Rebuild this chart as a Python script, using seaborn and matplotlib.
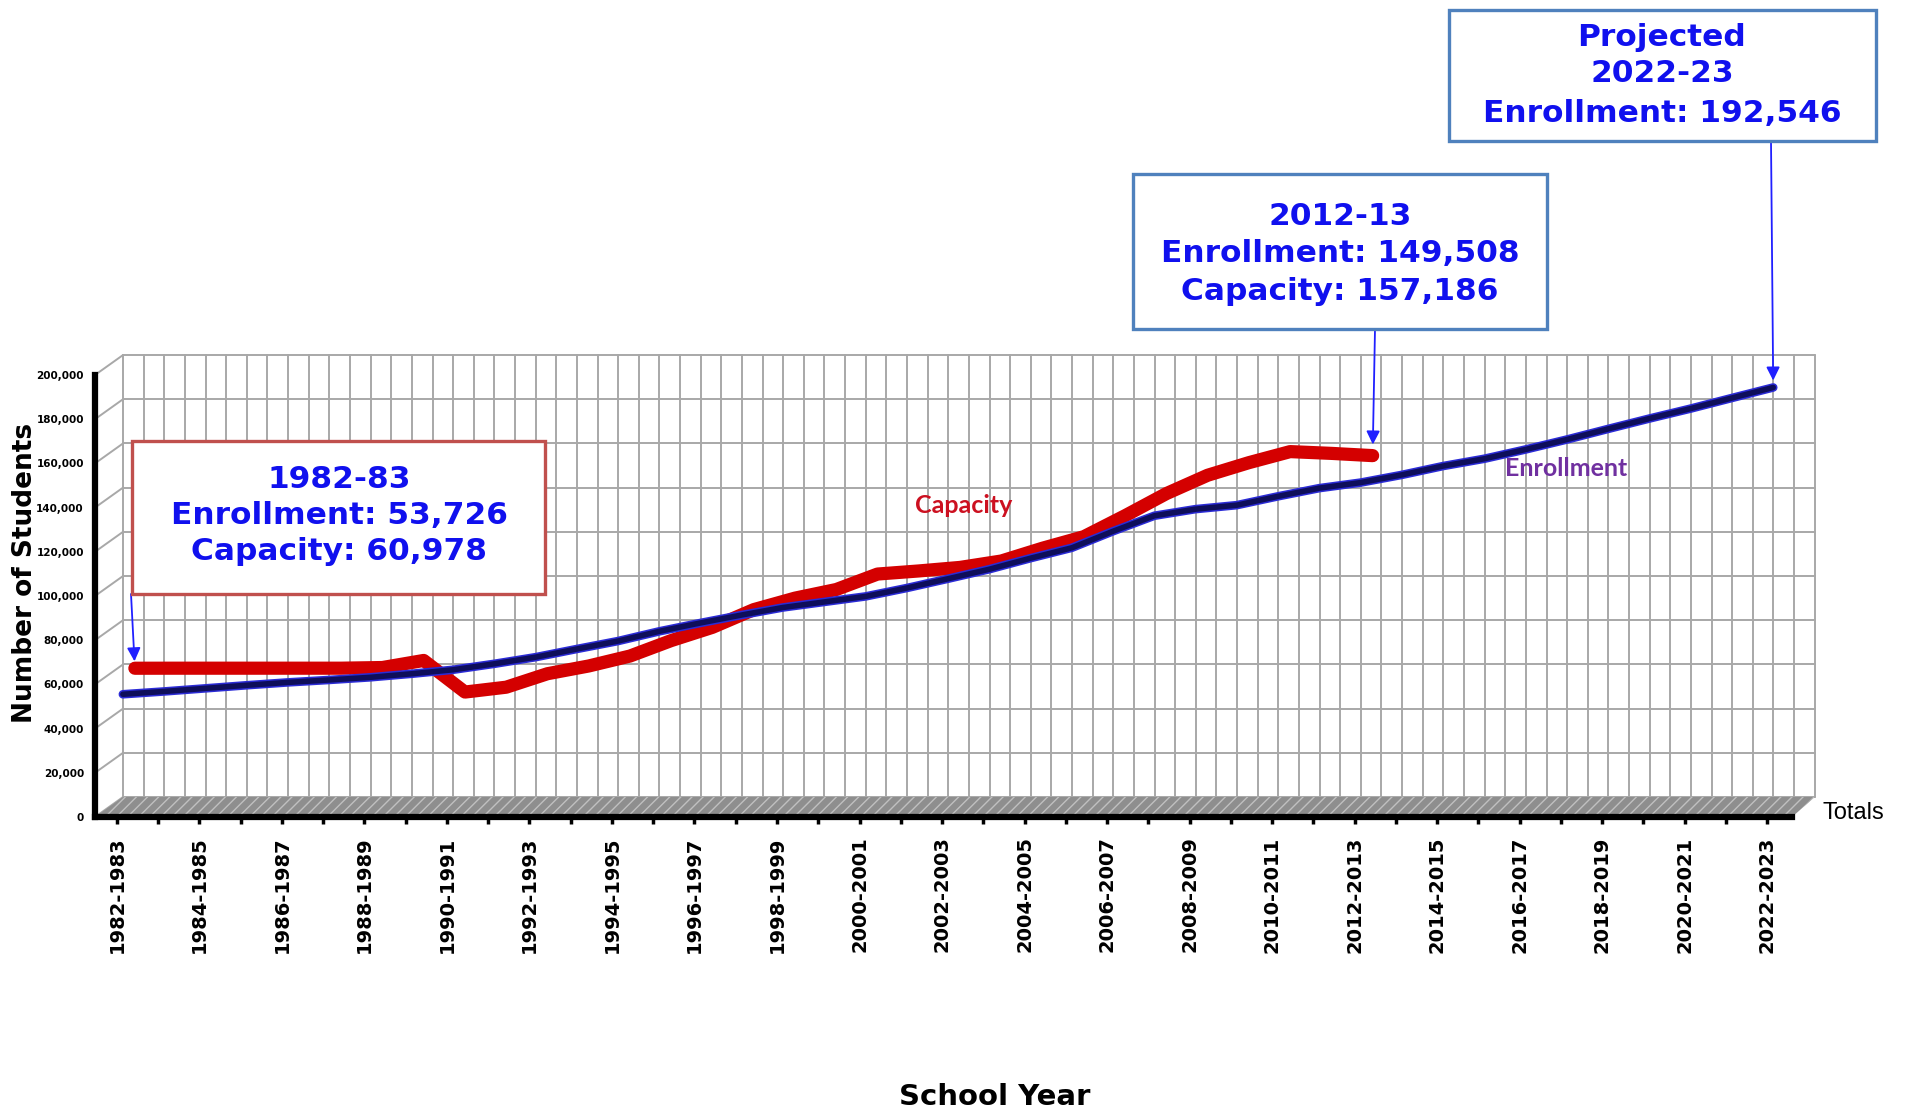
import numpy as np
import pandas as pd
import matplotlib
matplotlib.use('Agg')
import matplotlib.pyplot as plt
import matplotlib.transforms as mtransforms
import matplotlib.patheffects as pe
from matplotlib.patches import Polygon, Rectangle
from matplotlib.ticker import FuncFormatter
import seaborn as sns

# Figure size in pixels
W, H = 1911, 1113
DPI = 100

# Data (students per school year)
start_years = list(range(1982, 2023))
school_years = [str(y) + '-' + str(y + 1) for y in start_years]
enrollment = [53726, 55000, 56400, 57800, 59100, 60200, 61400, 63000, 64800, 67500,
              70500, 74200, 77800, 82200, 86000, 89600, 93000, 95500, 98000, 101800,
              106000, 110300, 115300, 120000, 127500, 134500, 137500, 139300, 143300, 147000,
              149508, 153000, 157000, 160300, 164500, 169000, 173800, 178500, 183000, 187800,
              192546]
capacity = [60978, 61000, 61000, 61000, 61000, 61000, 61300, 64500, 50200, 52400,
            58500, 62000, 66500, 73500, 79500, 87500, 92700, 96600, 103600, 105000,
            106600, 109500, 115300, 120500, 130000, 140000, 148300, 154000, 159000, 158200,
            157186]

enr_df = pd.DataFrame({'Year': range(len(enrollment)), 'Enrollment': enrollment})
cap_df = pd.DataFrame({'Year': range(len(capacity)), 'Capacity': capacity})

# Colours
GRID = '#a8a8a8'
BOX_TEXT = '#1010ee'
ARROW = '#2020ff'

sns.set_style('white')
plt.rcParams['font.family'] = ['DejaVu Sans']
plt.rcParams['text.color'] = 'black'
plt.rcParams['axes.labelcolor'] = 'black'
plt.rcParams['xtick.color'] = 'black'
plt.rcParams['ytick.color'] = 'black'

fig, ax = plt.subplots(figsize=(W / DPI, H / DPI), dpi=DPI)
fig.subplots_adjust(left=95 / W, right=1792 / W, bottom=(H - 817) / H, top=(H - 375) / H)

XMIN, XMAX = -0.53, 40.6
BACK_X, BACK_Y = 0.15, 9050   # depth offset of the back wall (fake 3D)

# Back wall grid
for k in range(83):
    ax.plot([BACK_X + 0.5 * k] * 2, [BACK_Y, 200000 + BACK_Y], color=GRID, lw=1.4,
            clip_on=False, zorder=0)
for j in range(11):
    ax.plot([BACK_X, BACK_X + 41], [BACK_Y + 20000 * j] * 2, color=GRID, lw=1.4,
            clip_on=False, zorder=0)
    # side wall
    ax.plot([XMIN, BACK_X], [20000 * j, 20000 * j + BACK_Y], color=GRID, lw=1.4,
            clip_on=False, zorder=0)

# Floor
floor = Polygon([(XMIN, 0), (XMAX, 0), (BACK_X + 41, BACK_Y), (BACK_X, BACK_Y)],
                closed=True, facecolor='#8e8e8e', edgecolor='#c0c0c0', hatch='///',
                lw=0, clip_on=False, zorder=1)
ax.add_patch(floor)

# Series lines, shifted slightly for the depth effect
red_tr = mtransforms.offset_copy(ax.transData, fig=fig, x=18, y=14, units='dots')
blue_tr = mtransforms.offset_copy(ax.transData, fig=fig, x=6, y=4, units='dots')

sns.lineplot(data=cap_df, x='Year', y='Capacity', ax=ax, color='#d40000', lw=9.5,
             transform=red_tr, zorder=3, solid_capstyle='round', clip_on=False)
sns.lineplot(data=enr_df, x='Year', y='Enrollment', ax=ax, color='#0e0e5a', lw=4.0,
             transform=blue_tr, zorder=4, solid_capstyle='round', clip_on=False,
             path_effects=[pe.Stroke(linewidth=6.2, foreground='#2b2bd6'), pe.Normal()])

ax.set_xlim(XMIN, XMAX)
ax.set_ylim(0, 200000)

# Axes styling
for side in ['top', 'right']:
    ax.spines[side].set_visible(False)
for side in ['left', 'bottom']:
    ax.spines[side].set_color('black')
    ax.spines[side].set_linewidth(4.5)
    ax.spines[side].set_zorder(2.5)

ax.set_xticks(range(len(school_years)))
ax.set_xticklabels([s if i % 2 == 0 else '' for i, s in enumerate(school_years)],
                   rotation=90, fontsize=14, fontweight='bold')
ax.tick_params(axis='x', bottom=True, length=5, width=2.5, color='black', pad=9)
ax.set_yticks(range(0, 200001, 20000))
ax.yaxis.set_major_formatter(FuncFormatter(lambda v, p: '{:,}'.format(int(v))))
ax.tick_params(axis='y', left=False, length=0, pad=8, labelsize=7.5)
for lab in ax.get_yticklabels():
    lab.set_fontweight('bold')

ax.set_xlabel('School Year', fontsize=21, fontweight='bold', va='center')
ax.xaxis.set_label_coords(0.53, -0.633)
ax.set_ylabel('Number of Students', fontsize=19, fontweight='bold', va='center')
ax.yaxis.set_label_coords(-0.041, 0.552)

ax.text(41.33, 2000, 'Totals', fontsize=17, family='Liberation Sans', ha='left', va='center')

# Series labels
fig.text(964 / W, 1 - 506 / H, 'Capacity', fontsize=18, fontweight='bold', family='Lato',
         color='#cc1020', ha='center', va='center')
fig.text(1566 / W, 1 - 469 / H, 'Enrollment', fontsize=18, fontweight='bold', family='Lato',
         color='#7030a0', ha='center', va='center')


# Callout boxes (pixel positions measured from the top-left)
def callout(x0, y0, x1, y1, edge, lines, line_y, cx):
    fig.add_artist(Rectangle((x0 / W, 1 - y1 / H), (x1 - x0) / W, (y1 - y0) / H,
                             transform=fig.transFigure, facecolor='white', edgecolor=edge,
                             lw=2.4, zorder=5))
    for txt, ly in zip(lines, line_y):
        fig.text(cx / W, 1 - ly / H, txt, fontsize=22.5, fontweight='bold', color=BOX_TEXT,
                 ha='center', va='center', zorder=6)


def arrow(xy, tr, x, y, shrink):
    ax.annotate('', xy=xy, xycoords=tr, xytext=(x / W, 1 - y / H), textcoords='figure fraction',
                arrowprops=dict(arrowstyle='-|>', color=ARROW, lw=1.3, shrinkA=0,
                                shrinkB=shrink, mutation_scale=20), zorder=6)


callout(132, 441, 545, 594, '#c0504d',
        ['1982-83', 'Enrollment: 53,726', 'Capacity: 60,978'], [480, 515, 551], 339)
callout(1133, 174, 1547, 329, '#4f81bd',
        ['2012-13', 'Enrollment: 149,508', 'Capacity: 157,186'], [216, 253, 291], 1340)
callout(1449, 10, 1876, 141, '#4f81bd',
        ['Projected', '2022-23', 'Enrollment: 192,546'], [37, 74, 114], 1662)

arrow((0, capacity[0]), red_tr, 131, 594, 5)
arrow((30, capacity[30]), red_tr, 1375, 329, 8)
arrow((40, enrollment[40]), blue_tr, 1771, 141, 5)

plt.savefig('out.png', dpi=DPI)
plt.close()
